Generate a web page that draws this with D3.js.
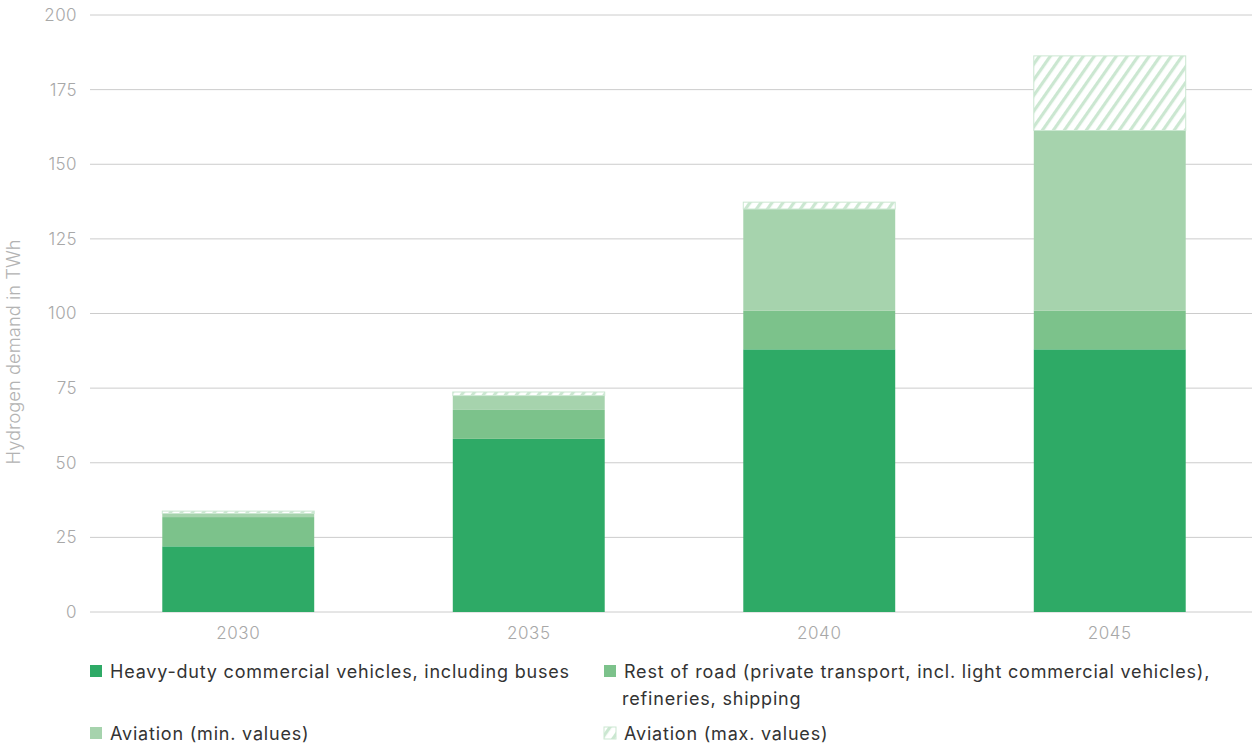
<!DOCTYPE html>
<html lang="en">
<head>
  <meta charset="UTF-8">
  <script src="https://d3js.org/d3.v7.min.js"></script>
  <style>
    body { margin: 0; background: #fff; }
    text { font-family: Inter, "Noto Sans", sans-serif; }
  </style>
</head>
<body>
<svg id="chart" width="1252" height="746"></svg>
<script>
  var years = ['2030', '2035', '2040', '2045'];
  var heavyDuty = [22, 58, 88, 88];
  var restOfRoad = [9.8, 9.7, 13, 13];
  var aviationMin = [1.2, 4.8, 34, 60.3];
  var aviationMax = [0.8, 1.2, 2.3, 25];
  var yTicks = [0, 25, 50, 75, 100, 125, 150, 175, 200];
  var seriesNames = ['Heavy-duty commercial vehicles, including buses',
    'Rest of road (private transport, incl. light commercial vehicles),',
    'Aviation (min. values)', 'Aviation (max. values)'];
  var colors = ['#2eaa66', '#7cc28b', '#a6d3ad', '#cbe7d1'];

  var svg = d3.select('#chart');
  var defs = svg.append('defs');
  var pat = defs.append('pattern').attr('id', 'hatch')
    .attr('patternUnits', 'userSpaceOnUse').attr('width', 9).attr('height', 9)
    .attr('patternTransform', 'rotate(35)');
  pat.append('rect').attr('width', 9).attr('height', 9).attr('fill', '#fff');
  pat.append('rect').attr('width', 3.2).attr('height', 9).attr('fill', colors[3]);

  var x = d3.scaleBand().domain(years).range([93, 1255])
    .paddingInner(0.477).paddingOuter(0.2385);
  var y = d3.scaleLinear().domain([0, 200]).range([612, 15]);

  // grid
  svg.append('g').selectAll('line').data(yTicks).enter().append('line')
    .attr('x1', 90).attr('x2', 1252)
    .attr('y1', d => y(d)).attr('y2', d => y(d))
    .attr('stroke', '#cccccc').attr('stroke-width', 1);

  var yAxis = svg.append('g').attr('transform', 'translate(90,0)')
    .call(d3.axisLeft(y).tickValues(yTicks).tickSize(0).tickPadding(13));
  yAxis.select('.domain').remove();
  yAxis.selectAll('text').attr('font-size', 17).attr('fill', '#a8a8a8')
    .style('font-family', 'Inter, sans-serif').attr('font-weight', 300)
    .attr('letter-spacing', 0.4);

  var xAxis = svg.append('g').attr('transform', 'translate(0,612)')
    .call(d3.axisBottom(x).tickSize(0).tickPadding(15));
  xAxis.select('.domain').remove();
  xAxis.selectAll('text').attr('font-size', 17).attr('fill', '#a8a8a8')
    .style('font-family', 'Inter, sans-serif').attr('font-weight', 300)
    .attr('letter-spacing', 0.6);

  svg.append('text').attr('transform', 'translate(20,352) rotate(-90)')
    .attr('text-anchor', 'middle').attr('font-size', 18.4).attr('fill', '#b3b3b3')
    .attr('font-weight', 300).text('Hydrogen demand in TWh');

  var rows = years.map((yr, i) => ({year: yr, v: [heavyDuty[i], restOfRoad[i], aviationMin[i], aviationMax[i]]}));
  var stack = d3.stack().keys([0, 1, 2, 3]).value((d, k) => d.v[k]);
  var layers = stack(rows);

  svg.append('g').selectAll('g').data(layers).enter().append('g')
    .each(function(layer, li) {
      d3.select(this).selectAll('rect').data(layer).enter().append('rect')
        .attr('x', d => x(d.data.year))
        .attr('width', x.bandwidth())
        .attr('y', d => y(d[1]))
        .attr('height', d => y(d[0]) - y(d[1]))
        .attr('fill', li === 3 ? 'url(#hatch)' : colors[li])
        .attr('stroke', li === 3 ? colors[3] : 'none')
        .attr('stroke-width', li === 3 ? 1 : 0);
    });

  // legend
  var leg = [
    {x: 90, y: 671, i: 0},
    {x: 604, y: 671, i: 1},
    {x: 90, y: 733, i: 2},
    {x: 604, y: 733, i: 3}
  ];
  var lg = svg.append('g').selectAll('g').data(leg).enter().append('g')
    .attr('transform', d => 'translate(' + d.x + ',' + d.y + ')');
  lg.append('rect').attr('x', 0).attr('y', -6).attr('width', 12).attr('height', 12)
    .attr('fill', d => d.i === 3 ? 'url(#hatch)' : colors[d.i])
    .attr('stroke', d => d.i === 3 ? colors[3] : 'none');
  lg.append('text').attr('x', 20).attr('y', 6.5).attr('font-size', 18).attr('fill', '#333')
    .attr('letter-spacing', 0.8).text(d => seriesNames[d.i]);
  svg.append('text').attr('x', 622).attr('y', 705).attr('font-size', 18).attr('fill', '#333')
    .attr('letter-spacing', 0.8).text('refineries, shipping');
</script>
</body>
</html>
